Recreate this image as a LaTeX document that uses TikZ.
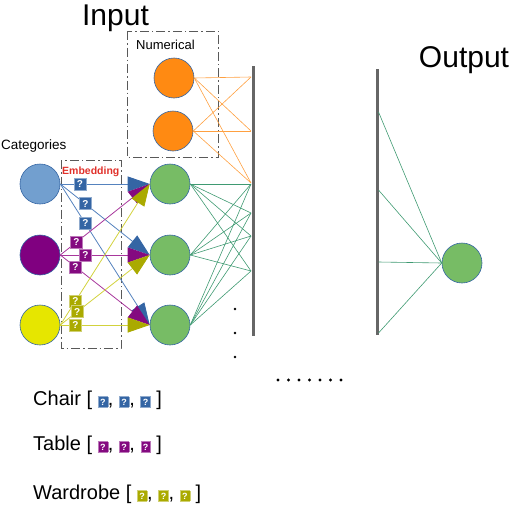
\documentclass[tikz,border=0pt]{standalone}
\usepackage{fontspec}
\setmainfont{Liberation Sans}
\usetikzlibrary{arrows.meta}

\definecolor{catblue}{HTML}{729FCF}
\definecolor{catpurple}{HTML}{800080}
\definecolor{catyellow}{HTML}{E6E600}
\definecolor{nodegreen}{HTML}{77BC65}
\definecolor{numorange}{HTML}{FF8A12}
\definecolor{rimblue}{HTML}{3465A4}
\definecolor{qblue}{HTML}{3465A4}
\definecolor{qpurple}{HTML}{840A80}
\definecolor{qolive}{HTML}{AAAA00}
\definecolor{lblue}{HTML}{5582BE}
\definecolor{lpurple}{HTML}{A8379C}
\definecolor{lyellow}{HTML}{D2D23C}
\definecolor{lorange}{HTML}{FFA040}
\definecolor{lgreen}{HTML}{3F9A72}
\definecolor{barcol}{HTML}{666666}
\definecolor{embred}{HTML}{E0302A}

\newcommand{\qb}[1]{{\setlength{\fboxsep}{2pt}\fcolorbox{#1!55!white}{#1}{\textcolor{white}{\fontsize{9}{9}\selectfont\bfseries ?}}}}

\tikzset{
  neuron/.style={circle, draw=rimblue, line width=0.6pt, fill=#1, minimum size=40pt, inner sep=0pt},
  qbox/.style={fill=#1, draw=#1!55!white, text=white, font=\fontsize{10}{10}\selectfont\bfseries, inner sep=1.5pt, minimum size=12pt},
  groupbox/.style={draw=black!65, line width=0.8pt, dash pattern=on 9pt off 3pt on 1.5pt off 3pt},
  bar/.style={draw=barcol, line width=3pt},
  lbl/.style={anchor=base west, inner sep=0pt},
  emb/.style={line width=0.8pt, -{Triangle[length=22pt,width=15pt,color=#1]}},
}

\begin{document}
\begin{tikzpicture}[x=1pt, y=-1pt]
    \useasboundingbox (0,0) rectangle (518,506);
    \node[font=\fontsize{30}{30}\selectfont, anchor=base, inner sep=0pt] (inlbl) at (115.5,25) {Input};
    \node[font=\fontsize{30}{30}\selectfont, anchor=base, inner sep=0pt] (outlbl) at (464,67) {Output};
    \draw[groupbox] (127,31) rectangle (218,157);
    \draw[groupbox] (61,160) rectangle (121,348);
    \node[lbl, font=\fontsize{13}{13}\selectfont] (numlbl) at (136,49) {Numerical};
    \node[lbl, font=\fontsize{13.5}{13.5}\selectfont] (catlbl) at (1,149) {Categories};
    \node[lbl, font=\fontsize{10.5}{10.5}\selectfont\bfseries, text=embred] (emblbl) at (62,174) {Embedding};

    \draw[bar] (253,66) -- (253,336);
    \draw[bar] (377,69) -- (377,335);
    \foreach \j/\y in {1/77,2/131,3/183} \coordinate (a\j) at (251,\y);
    \foreach \j/\y in {1/184,2/213,3/236,4/271} \coordinate (b\j) at (251,\y);
    \foreach \j/\y in {1/112,2/190,3/262,4/333} \coordinate (o\j) at (378.5,\y);

    \node[neuron=numorange] (n1) at (174,78) {};
    \node[neuron=numorange] (n2) at (173,131) {};
    \node[neuron=catblue] (c1) at (40,184) {};
    \node[neuron=catpurple] (c2) at (40,255) {};
    \node[neuron=catyellow] (c3) at (40,325) {};
    \foreach \i/\y in {1/184,2/255,3/325} \node[neuron=nodegreen] (g\i) at (170,\y) {};
    \node[neuron=nodegreen] (out) at (462,263) {};

    \foreach \n in {n1,n2} \foreach \j in {1,2,3} \draw[lorange, line width=0.6pt] (\n.east) -- (a\j);
    \foreach \i in {1,2,3} \foreach \j in {1,...,4} \draw[lgreen, line width=0.6pt] (g\i.east) -- (b\j);
    \foreach \j in {1,...,4} \draw[lgreen, line width=0.6pt] (o\j) -- (out.west);

    \foreach \c/\g/\p/\col/\lc in {c1/g1/.22/qblue/lblue, c1/g2/.28/qblue/lblue, c1/g3/.28/qblue/lblue,
        c2/g1/.18/qpurple/lpurple, c2/g2/.28/qpurple/lpurple, c2/g3/.17/qpurple/lpurple,
        c3/g1/.17/qolive/lyellow, c3/g2/.19/qolive/lyellow, c3/g3/.17/qolive/lyellow}
        \draw[emb=\col, \lc] (\c.east) -- node[qbox=\col, pos=\p] (q\c\g) {?} (\g.west);

    \foreach \y in {309,333,357} \fill (235,\y) circle (1.3);
    \foreach \k in {0,...,6} \fill ({278+10.5*\k},380) circle (1.6);

    \node[lbl, font=\fontsize{20}{20}\selectfont] (chair) at (33,405) {Chair [ \qb{qblue}, \qb{qblue}, \qb{qblue} ]};
    \node[lbl, font=\fontsize{20}{20}\selectfont] (table) at (33,450) {Table [ \qb{qpurple}, \qb{qpurple}, \qb{qpurple} ]};
    \node[lbl, font=\fontsize{20}{20}\selectfont] (wardrobe) at (33,499) {Wardrobe [ \qb{qolive}, \qb{qolive}, \qb{qolive} ]};
\end{tikzpicture}
\end{document}
